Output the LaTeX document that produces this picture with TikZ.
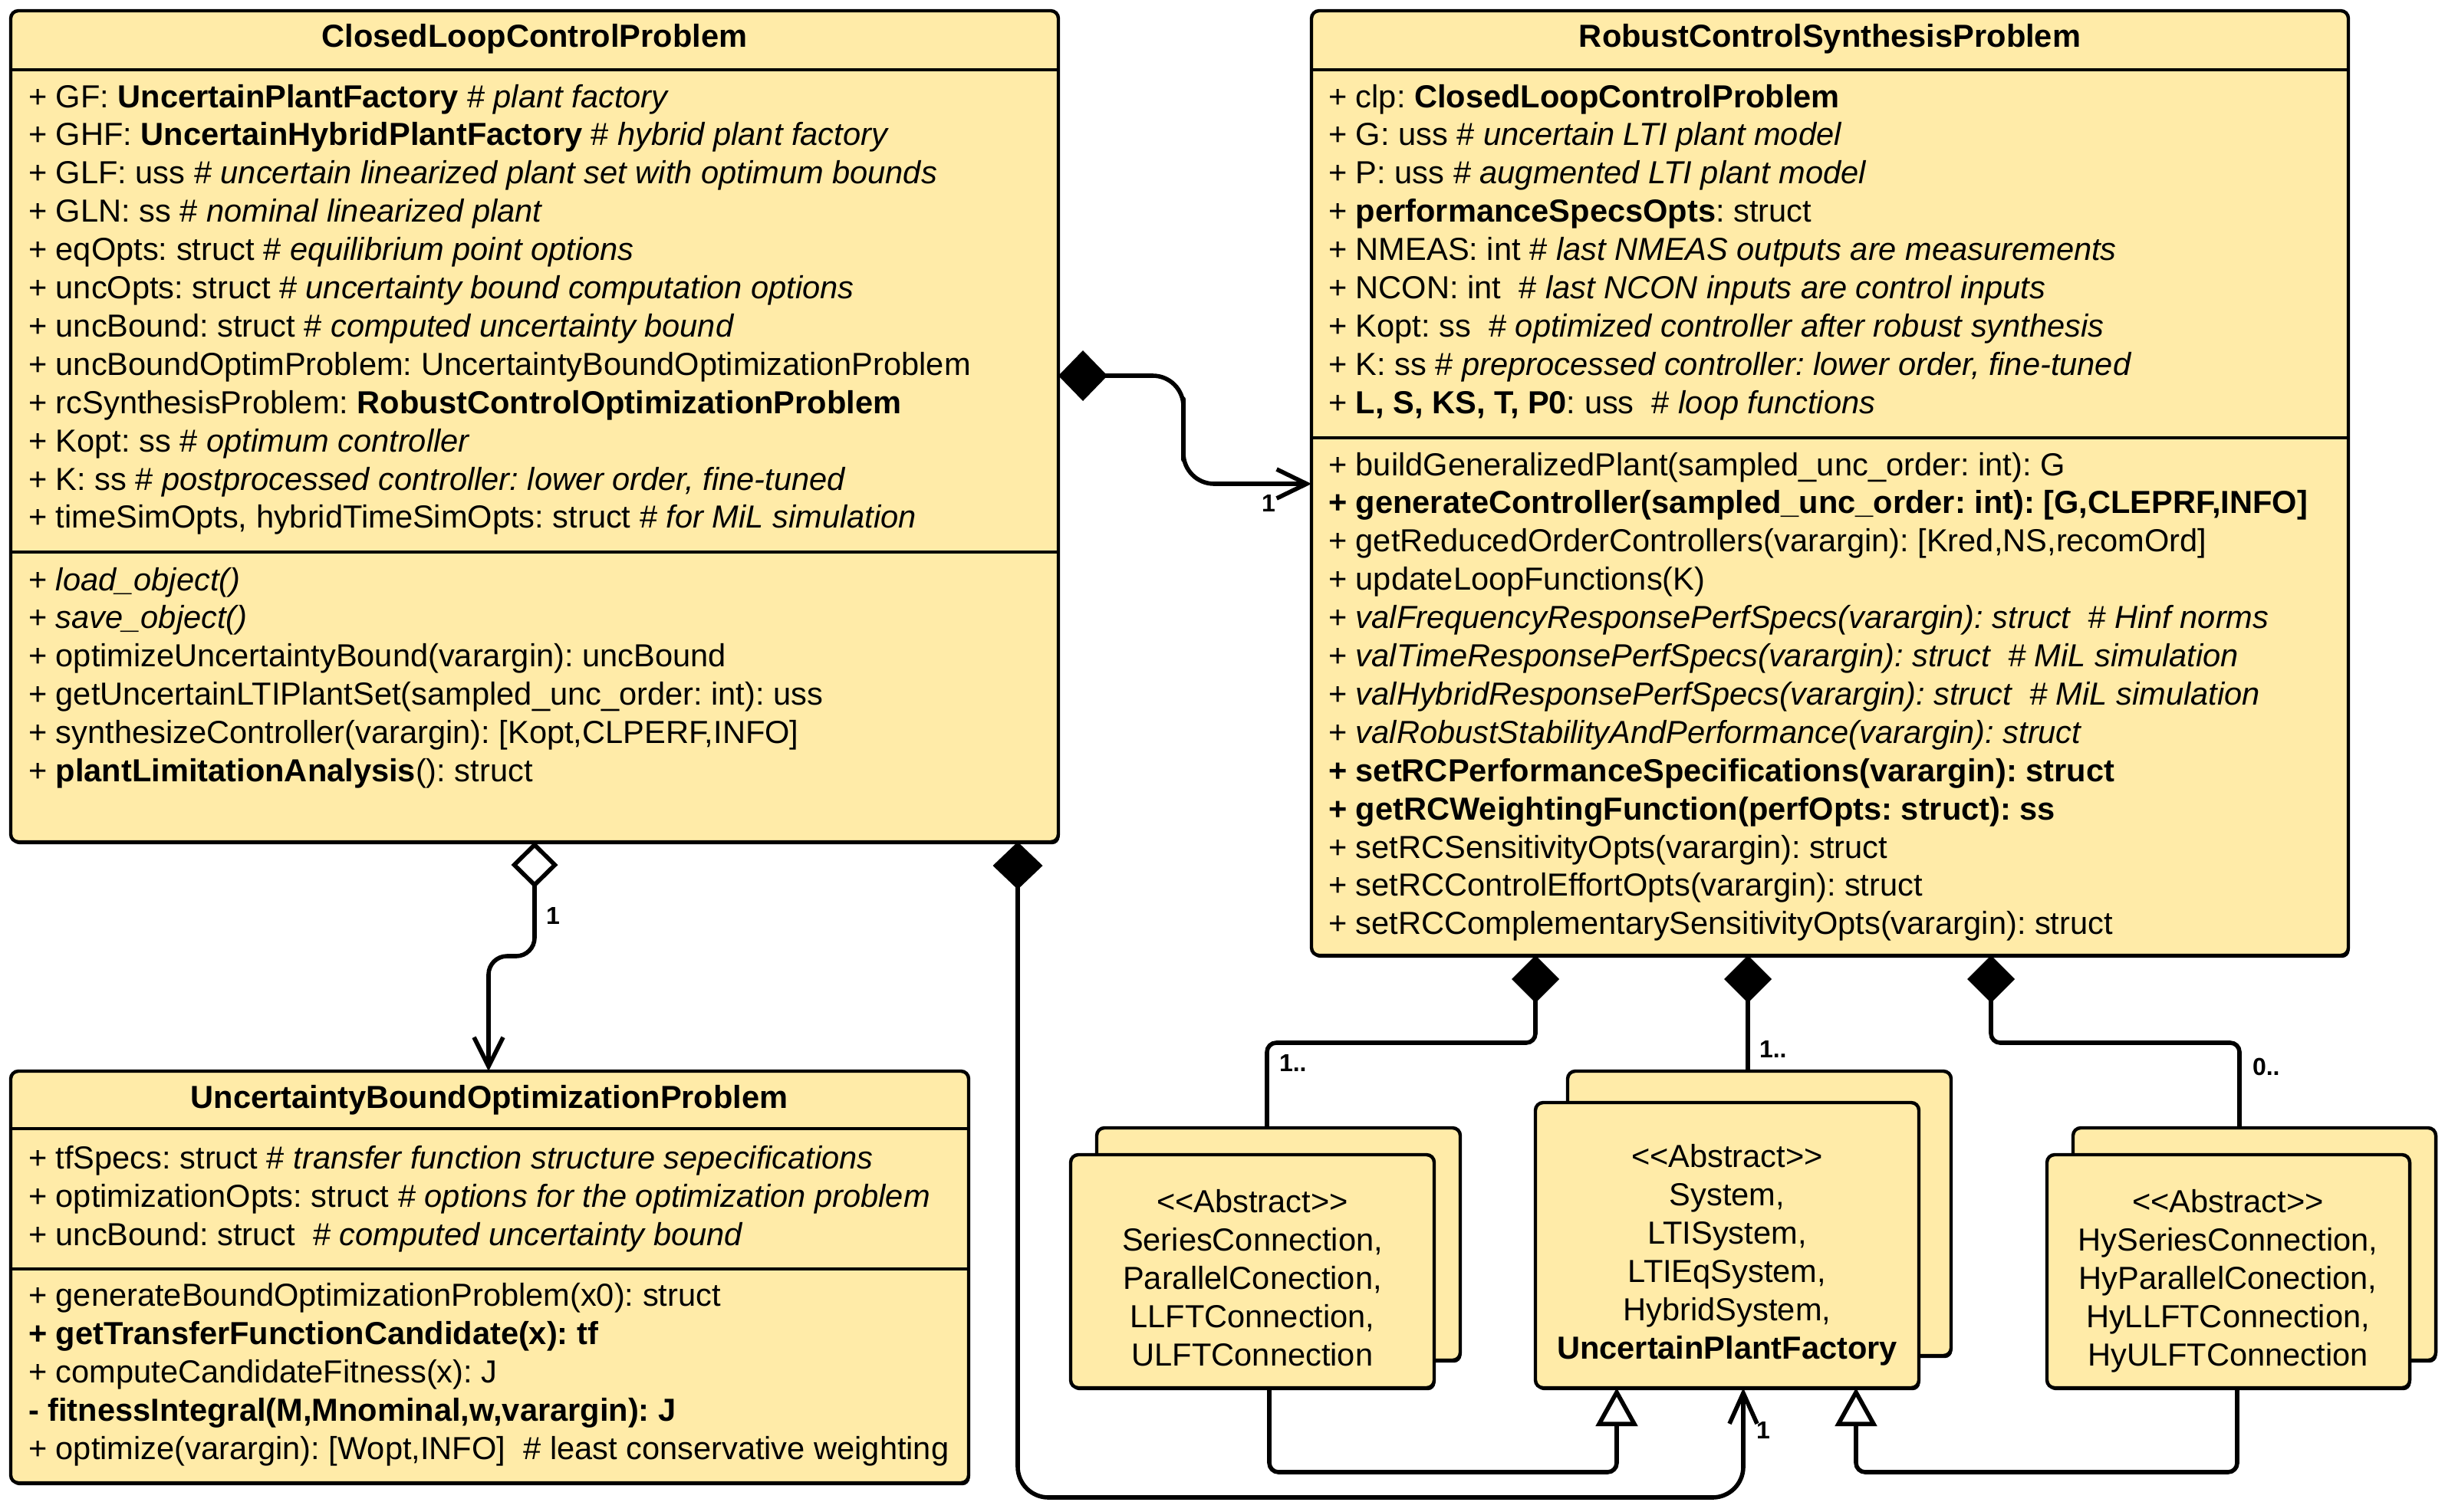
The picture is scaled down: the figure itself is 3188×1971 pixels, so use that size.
\documentclass[tikz,border=0pt]{standalone}
\usepackage{fontspec}
\setmainfont{Liberation Sans}
\usetikzlibrary{arrows.meta,shadows}
\definecolor{umlfill}{HTML}{FFEBA8}
\newcommand\pxu{*0.25pt}
\frenchspacing
\begin{document}
\frenchspacing
\begin{tikzpicture}[x=0.25pt,y=-0.25pt,
  umlbox/.style={draw=black, line width=1.1pt, fill=umlfill, rounded corners=2.5pt,
    inner sep=0pt, outer sep=0pt, anchor=north west,
    drop shadow={shadow xshift=0.4pt, shadow yshift=-0.8pt, fill=black, opacity=1}},
  sepline/.style={line width=1.1pt},
  txt/.style={inner sep=0pt, outer sep=0pt, anchor=base west, font=\fontsize{10.4pt}{12.5pt}\selectfont\frenchspacing},
  clstitle/.style={inner sep=0pt, outer sep=0pt, anchor=base, font=\fontsize{10.4pt}{12.5pt}\selectfont\bfseries},
  ctxt/.style={inner sep=0pt, outer sep=0pt, anchor=base, font=\fontsize{10.4pt}{12.5pt}\selectfont},
  mult/.style={inner sep=0pt, outer sep=0pt, font=\fontsize{8pt}{9.5pt}\selectfont\bfseries},
  conn/.style={line width=1.4pt, line join=round},
  comp/.style={conn, {Diamond[length=15.5pt,width=15.5pt]}-},
  gen/.style={conn, -{Triangle[open, length=12.5pt, width=13.5pt]}}
]
\fill[white] (0,0) rectangle (3188,1971);
\useasboundingbox (0,0) rectangle (3188,1971);

% ---------- ClosedLoopControlProblem ----------
\node[umlbox, minimum width=1366\pxu, minimum height=1084\pxu] (clcp) at (14,14) {};
\draw[sepline] (clcp.west |- 0,91) -- (clcp.east |- 0,91);
\draw[sepline] (clcp.west |- 0,720) -- (clcp.east |- 0,720);
\node[clstitle] (clcpT) at (697,61) {ClosedLoopControlProblem};
\foreach \t [count=\i from 0] in {
  {+ GF: \textbf{UncertainPlantFactory} \# \textit{plant factory}},
  {+ GHF: \textbf{UncertainHybridPlantFactory} \# \textit{hybrid plant factory}},
  {+ GLF: uss \# \textit{uncertain linearized plant set with optimum bounds}},
  {+ GLN: ss \# \textit{nominal linearized plant}},
  {+ eqOpts: struct \# \textit{equilibrium point options}},
  {+ uncOpts: struct \# \textit{uncertainty bound computation options}},
  {+ uncBound: struct \# \textit{computed uncertainty bound}},
  {+ uncBoundOptimProblem: UncertaintyBoundOptimizationProblem},
  {+ rcSynthesisProblem: \textbf{RobustControlOptimizationProblem}},
  {+ Kopt: ss \# \textit{optimum controller}},
  {+ K: ss \# \textit{postprocessed controller: lower order, fine-tuned}},
  {+ timeSimOpts, hybridTimeSimOpts: struct \# \textit{for MiL simulation}}}
  \node[txt] (clcpA\i) at (37,140+\i*49.9) {\t};
\foreach \t [count=\i from 0] in {
  {+ \textit{load\_object()}},
  {+ \textit{save\_object()}},
  {+ optimizeUncertaintyBound(varargin): uncBound},
  {+ getUncertainLTIPlantSet(sampled\_unc\_order: int): uss},
  {+ synthesizeController(varargin): [Kopt,CLPERF,INFO]},
  {+ \textbf{plantLimitationAnalysis}(): struct}}
  \node[txt] (clcpM\i) at (37,770+\i*49.9) {\t};

% ---------- RobustControlSynthesisProblem ----------
\node[umlbox, minimum width=1352\pxu, minimum height=1232\pxu] (rcsp) at (1710,14) {};
\draw[sepline] (rcsp.west |- 0,91) -- (rcsp.east |- 0,91);
\draw[sepline] (rcsp.west |- 0,571) -- (rcsp.east |- 0,571);
\node[clstitle] (rcspT) at (2386,61) {RobustControlSynthesisProblem};
\foreach \t [count=\i from 0] in {
  {+ clp: \textbf{ClosedLoopControlProblem}},
  {+ G: uss \# \textit{uncertain LTI plant model}},
  {+ P: uss \# \textit{augmented LTI plant model}},
  {+ \textbf{performanceSpecsOpts}: struct},
  {+ NMEAS: int \# \textit{last NMEAS outputs are measurements}},
  {+ NCON: int\ \ \# \textit{last NCON inputs are control inputs}},
  {+ Kopt: ss\ \ \# \textit{optimized controller after robust synthesis}},
  {+ K: ss \# \textit{preprocessed controller: lower order, fine-tuned}},
  {+ \textbf{L, S, KS, T, P0}: uss\ \ \# \textit{loop functions}}}
  \node[txt] (rcspA\i) at (1732,140+\i*49.9) {\t};
\foreach \t [count=\i from 0] in {
  {+ buildGeneralizedPlant(sampled\_unc\_order: int): G},
  {\textbf{+ generateController(sampled\_unc\_order: int): [G,CLEPRF,INFO]}},
  {+ getReducedOrderControllers(varargin): [Kred,NS,recomOrd]},
  {+ updateLoopFunctions(K)},
  {+ \textit{valFrequencyResponsePerfSpecs(varargin): struct\ \ \# Hinf norms}},
  {+ \textit{valTimeResponsePerfSpecs(varargin): struct\ \ \# MiL simulation}},
  {+ \textit{valHybridResponsePerfSpecs(varargin): struct\ \ \# MiL simulation}},
  {+ \textit{valRobustStabilityAndPerformance(varargin): struct}},
  {\textbf{+ setRCPerformanceSpecifications(varargin): struct}},
  {\textbf{+ getRCWeightingFunction(perfOpts: struct): ss}},
  {+ setRCSensitivityOpts(varargin): struct},
  {+ setRCControlEffortOpts(varargin): struct},
  {+ setRCComplementarySensitivityOpts(varargin): struct}}
  \node[txt] (rcspM\i) at (1732,620+\i*49.9) {\t};

% ---------- UncertaintyBoundOptimizationProblem ----------
\node[umlbox, minimum width=1249\pxu, minimum height=537\pxu] (ubop) at (14,1397) {};
\draw[sepline] (ubop.west |- 0,1472) -- (ubop.east |- 0,1472);
\draw[sepline] (ubop.west |- 0,1655) -- (ubop.east |- 0,1655);
\node[clstitle] (ubopT) at (638,1445) {UncertaintyBoundOptimizationProblem};
\foreach \t [count=\i from 0] in {
  {+ tfSpecs: struct \# \textit{transfer function structure sepecifications}},
  {+ optimizationOpts: struct \# \textit{options for the optimization problem}},
  {+ uncBound: struct\ \ \# \textit{computed uncertainty bound}}}
  \node[txt] (ubopA\i) at (37,1524.5+\i*49.9) {\t};
\foreach \t [count=\i from 0] in {
  {+ generateBoundOptimizationProblem(x0): struct},
  {\textbf{+ getTransferFunctionCandidate(x): tf}},
  {+ computeCandidateFitness(x): J},
  {\textbf{- fitnessIntegral(M,Mnominal,w,varargin): J}},
  {+ optimize(varargin): [Wopt,INFO]\ \ \# least conservative weighting}}
  \node[txt] (ubopM\i) at (37,1703.4+\i*49.9) {\t};

% ---------- stacked abstract boxes ----------
\node[umlbox, minimum width=474\pxu, minimum height=303\pxu] (lback) at (1430,1471) {};
\node[umlbox, minimum width=474\pxu, minimum height=304\pxu] (lfront) at (1396,1506) {};
\node[umlbox, minimum width=500\pxu, minimum height=371\pxu] (mback) at (2044,1397) {};
\node[umlbox, minimum width=500\pxu, minimum height=372\pxu] (mfront) at (2002,1438) {};
\node[umlbox, minimum width=473\pxu, minimum height=303\pxu] (rback) at (2703,1471) {};
\node[umlbox, minimum width=473\pxu, minimum height=304\pxu] (rfront) at (2669,1506) {};

\foreach \t [count=\i from 0] in {
  {<\kern0pt<Abstract>\kern0pt>},{SeriesConnection,},{ParallelConection,},{LLFTConnection,},{ULFTConnection}}
  \node[ctxt] (lT\i) at (1633,1581.4+\i*49.9) {\t};
\foreach \t [count=\i from 0] in {
  {<\kern0pt<Abstract>\kern0pt>},{System,},{LTISystem,},{LTIEqSystem,},{HybridSystem,},{\textbf{UncertainPlantFactory}}}
  \node[ctxt] (mT\i) at (2252,1522.5+\i*49.9) {\t};
\foreach \t [count=\i from 0] in {
  {<\kern0pt<Abstract>\kern0pt>},{HySeriesConnection,},{HyParallelConection,},{HyLLFTConnection,},{HyULFTConnection}}
  \node[ctxt] (rT\i) at (2905,1581.4+\i*49.9) {\t};

% ---------- connectors ----------
\draw[conn, {Diamond[length=16pt,width=16.5pt]}-{Straight Barb[length=9.75pt,width=9.5pt]}, rounded corners=10pt]
  (clcp.east |- 0,490) -| (1543,560) |- (rcsp.west |- 0,631);
\draw[conn, {Diamond[open,length=15pt,width=15.25pt]}-{Straight Barb[length=9.5pt,width=9.5pt]}, rounded corners=6pt]
  (clcp.south -| 697,0) |- (637,1247) -- (ubop.north -| 637,0);
\draw[conn, {Diamond[length=15.5pt,width=16.25pt]}-{Straight Barb[length=10pt,width=9pt]}, rounded corners=10pt]
  (clcp.south -| 1327,0) |- (1800,1953) -| (mfront.south -| 2273,0);

\draw[comp, rounded corners=3pt] (rcsp.south -| 2002,0) |- (1800,1360) -| (lback.north -| 1652,0);
\draw[comp] (rcsp.south -| 2279,0) -- (mback.north -| 2279,0);
\draw[comp, rounded corners=3pt] (rcsp.south -| 2596,0) |- (2800,1360) -| (rback.north -| 2920,0);

\draw[gen, rounded corners=3pt] (lfront.south -| 1655,0) |- (1900,1920) -| (mfront.south -| 2108,0);
\draw[gen, rounded corners=3pt] (rfront.south -| 2917,0) |- (2600,1920) -| (mfront.south -| 2420,0);

% ---------- multiplicities ----------
\node[mult] (m1) at (1654,656) {1};
\node[mult] (m2) at (721,1194) {1};
\node[mult] (m3) at (2299,1865) {1};
\node[mult, anchor=west] (m4) at (1668,1386) {1..};
\node[mult, anchor=west] (m5) at (2294,1368) {1..};
\node[mult, anchor=west] (m6) at (2937,1391) {0..};
\end{tikzpicture}
\end{document}
